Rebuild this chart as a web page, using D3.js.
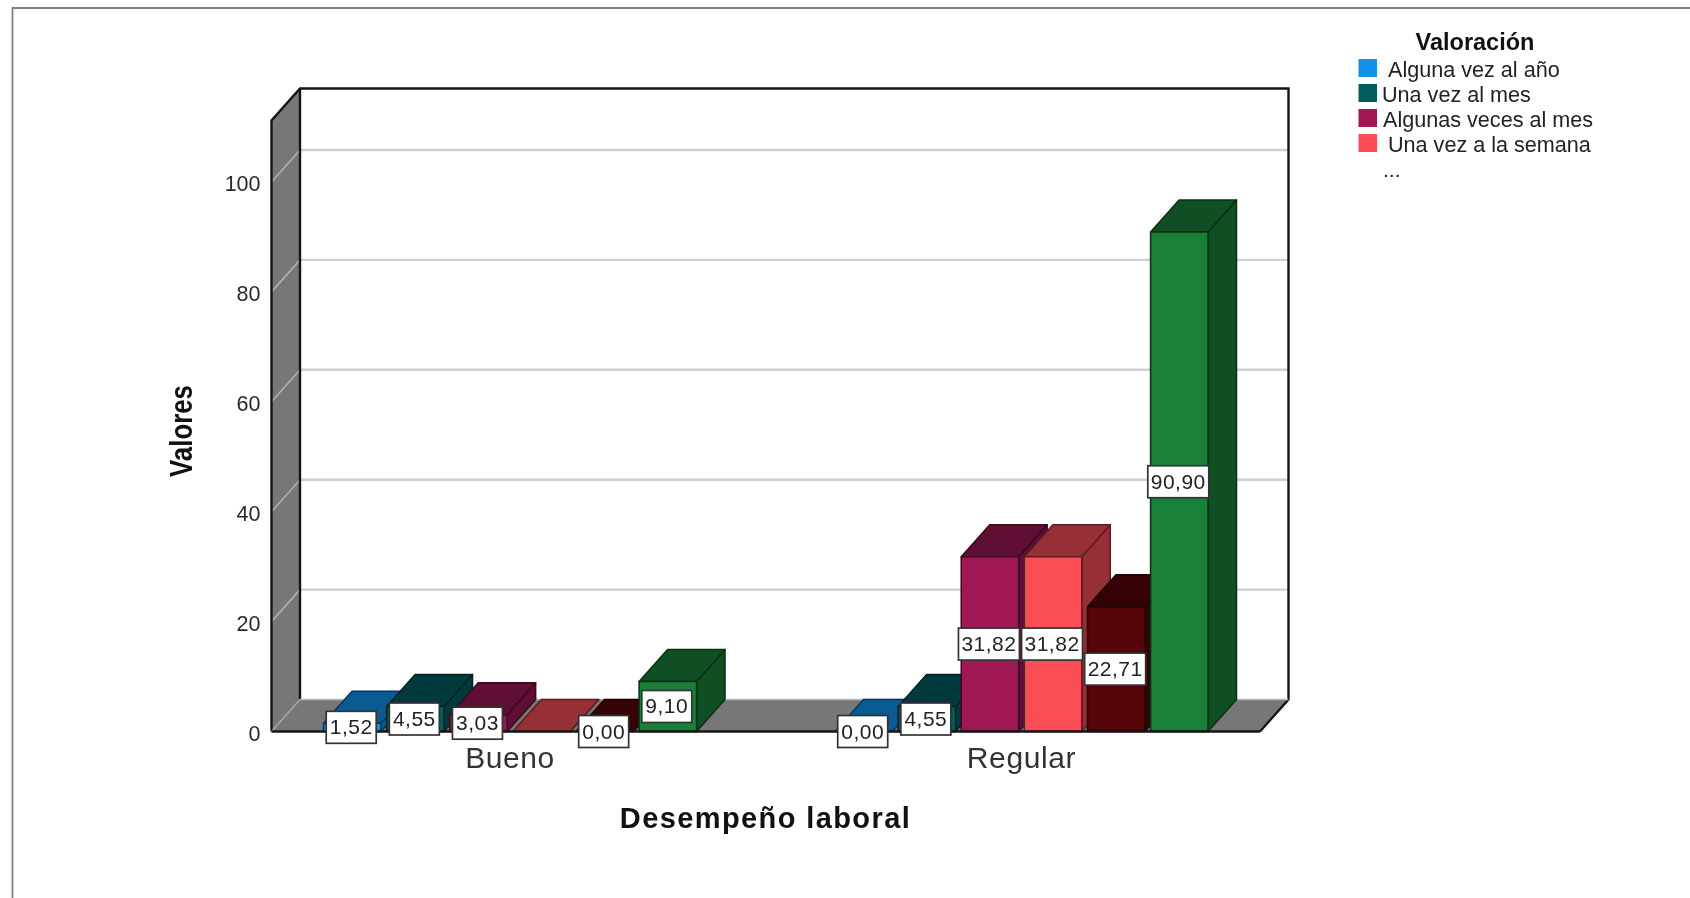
<!DOCTYPE html>
<html>
<head>
<meta charset="utf-8">
<script src="https://cdn.jsdelivr.net/npm/d3@7/dist/d3.min.js"></script>
<style>
html,body{margin:0;padding:0;background:#fff;overflow:hidden}
svg{display:block;filter:blur(0.55px)}
text{font-family:"Liberation Sans",Arial,sans-serif}
</style>
</head>
<body>
<script>
const categories = ["Bueno", "Regular"];
// Only four series names are legible in the legend; the other two are hidden behind "...".
const seriesKeys = ["serie1", "serie2", "serie3", "serie4", "serie5", "serie6"];
const serie1 = [1.52, 0.00];
const serie2 = [4.55, 4.55];
const serie3 = [3.03, 31.82];
const serie4 = [0.00, 31.82];
const serie5 = [0.00, 22.71];
const serie6 = [9.10, 90.90];
const seriesValues = [serie1, serie2, serie3, serie4, serie5, serie6];
const seriesColors = ["#1192e8", "#005d5d", "#9f1853", "#fa4d56", "#570408", "#198038"];
const yTicks = [0, 20, 40, 60, 80, 100];
const legendTitle = "Valoración";
const legendShown = ["Alguna vez al año", "Una vez al mes", "Algunas veces al mes", "Una vez a la semana"];
const xTitle = "Desempeño laboral";
const yTitle = "Valores";

const W = 1690, H = 898;
const depthX = 28.5, depthY = 32;
const fx0 = 271.5, fx1 = 1260;
const y = d3.scaleLinear().domain([0, 100]).range([731.5, 182]);
const topVal = y.invert(120.5);
const xBand = d3.scaleBand().domain(categories).range([254.25, 1277.25]);
const inner = d3.scaleBand().domain(seriesKeys).range([-186.5, 186.5]).paddingInner(0.09);

const svg = d3.select("body").append("svg").attr("width", W).attr("height", H);
svg.append("rect").attr("width", W).attr("height", H).attr("fill", "#fff");
svg.append("path").attr("d", `M12.5,${H}V8H${W}`).attr("fill", "none").attr("stroke", "#808080").attr("stroke-width", 1.8);

const poly = pts => "M" + pts.map(p => p.join(",")).join("L") + "Z";
const y0 = y(0), yT = y(topVal);

// walls
const plot = svg.append("g");
plot.append("path").attr("d", poly([[fx0, y0], [fx0 + depthX, y0 - depthY], [fx1 + depthX, y0 - depthY], [fx1, y0]])).attr("fill", "#777");
plot.append("path").attr("d", poly([[fx0, y0], [fx0, yT], [fx0 + depthX, yT - depthY], [fx0 + depthX, y0 - depthY]])).attr("fill", "#777");
// gridlines
yTicks.filter(t => t > 0).forEach(t => {
  plot.append("line").attr("x1", fx0 + depthX).attr("x2", fx1 + depthX).attr("y1", y(t) - depthY).attr("y2", y(t) - depthY).attr("stroke", "#cfcfcf").attr("stroke-width", 2.4);
  plot.append("line").attr("x1", fx0).attr("x2", fx0 + depthX).attr("y1", y(t)).attr("y2", y(t) - depthY).attr("stroke", "#b0b0b0").attr("stroke-width", 1.6);
});
// outlines
plot.append("path").attr("d", `M${fx0},${y0}V${yT}L${fx0 + depthX},${yT - depthY}H${fx1 + depthX}V${y0 - depthY}L${fx1},${y0}`).attr("fill", "none").attr("stroke", "#151515").attr("stroke-width", 2.4);
plot.append("line").attr("x1", fx0 + depthX).attr("x2", fx0 + depthX).attr("y1", yT - depthY).attr("y2", y0 - depthY).attr("stroke", "#151515").attr("stroke-width", 2.4);
plot.append("line").attr("x1", fx0).attr("x2", fx0 + depthX).attr("y1", y0).attr("y2", y0 - depthY).attr("stroke", "#a8a8a8").attr("stroke-width", 1.5);
plot.append("line").attr("x1", fx0 + depthX).attr("x2", fx1 + depthX).attr("y1", y0 - depthY).attr("y2", y0 - depthY).attr("stroke", "#b8b8b8").attr("stroke-width", 1.5);

// bars
const bars = svg.append("g");
categories.forEach((cat, ci) => {
  const cx = xBand(cat) + xBand.bandwidth() / 2;
  seriesKeys.forEach((s, si) => {
    const v = seriesValues[si][ci];
    const x0 = cx + inner(s), x1 = x0 + inner.bandwidth(), yv = y(v);
    const base = d3.rgb(seriesColors[si]);
    const side = d3.rgb(base.r * 0.6, base.g * 0.62, base.b * 0.63).formatHex();
    const line = d3.rgb(base.r * 0.38, base.g * 0.38, base.b * 0.38).formatHex();
    const g = bars.append("g").attr("stroke", line).attr("stroke-width", 1.5).attr("stroke-linejoin", "round");
    g.append("path").attr("d", poly([[x1, y0], [x1, yv], [x1 + depthX, yv - depthY], [x1 + depthX, y0 - depthY]])).attr("fill", side);
    g.append("path").attr("d", poly([[x0, yv], [x0 + depthX, yv - depthY], [x1 + depthX, yv - depthY], [x1, yv]])).attr("fill", side);
    if (v > 0) g.append("rect").attr("x", x0).attr("y", yv).attr("width", x1 - x0).attr("height", y0 - yv).attr("fill", seriesColors[si]);
  });
});
svg.append("line").attr("x1", fx0).attr("x2", fx1).attr("y1", y0).attr("y2", y0).attr("stroke", "#151515").attr("stroke-width", 2.4);

// value labels
const fmt = v => v.toFixed(2).replace(".", ",");
const labels = svg.append("g");
categories.forEach((cat, ci) => {
  const cx = xBand(cat) + xBand.bandwidth() / 2;
  seriesKeys.forEach((s, si) => {
    if (ci === 0 && si === 3) return; // no label on this bar in the reference
    const v = seriesValues[si][ci];
    const xc = cx + inner(s) + inner.bandwidth() / 2 - 1;
    const yc = (y(v) + y0) / 2;
    const txt = fmt(v);
    const bw = txt.length > 4 ? 61 : 50, bh = 32;
    labels.append("rect").attr("x", xc - bw / 2).attr("y", yc - bh / 2).attr("width", bw).attr("height", bh)
      .attr("fill", "#fff").attr("stroke", "#333").attr("stroke-width", 1.7);
    labels.append("text").attr("x", xc).attr("y", yc + 7).attr("text-anchor", "middle")
      .attr("font-size", 21).attr("letter-spacing", 0.5).attr("fill", "#222").text(txt);
  });
});

// y axis
const axis = d3.axisLeft(y).tickValues(yTicks).tickSize(0).tickPadding(0).tickFormat(d3.format("d"));
const ag = svg.append("g").attr("transform", `translate(260.5,2)`).call(axis);
ag.select(".domain").remove();
ag.selectAll("text").attr("font-size", 21.5).attr("fill", "#2a2a2a").style("font-family", '"Liberation Sans",Arial,sans-serif');

// category labels
svg.append("g").selectAll("text").data(categories).join("text")
  .attr("x", d => xBand(d) + xBand.bandwidth() / 2).attr("y", 768)
  .attr("text-anchor", "middle").attr("font-size", 30).attr("letter-spacing", 0.6).attr("fill", "#333").text(d => d);

// axis titles
svg.append("text").attr("x", 765.5).attr("y", 828).attr("text-anchor", "middle")
  .attr("font-size", 29).attr("font-weight", "bold").attr("letter-spacing", 1.4).attr("fill", "#111").text(xTitle);
svg.append("text").attr("transform", "translate(191.5,431) rotate(-90)").attr("text-anchor", "middle")
  .attr("font-size", 32).attr("font-weight", "bold").attr("textLength", 92).attr("lengthAdjust", "spacingAndGlyphs").attr("fill", "#111").text(yTitle);

// legend
const legend = svg.append("g");
legend.append("text").attr("x", 1475).attr("y", 50).attr("text-anchor", "middle")
  .attr("font-size", 23.5).attr("font-weight", "bold").attr("fill", "#111").text(legendTitle);
const legX = [1388, 1382, 1383, 1388];
legendShown.forEach((name, i) => {
  legend.append("rect").attr("x", 1358.5).attr("y", 59 + i * 25).attr("width", 18.5).attr("height", 18).attr("fill", seriesColors[i]);
  legend.append("text").attr("x", legX[i]).attr("y", 76.5 + i * 25.1).attr("font-size", 21.6).attr("fill", "#222").text(name);
});
legend.append("text").attr("x", 1383).attr("y", 177).attr("font-size", 21).attr("fill", "#222").text("...");
</script>
</body>
</html>
